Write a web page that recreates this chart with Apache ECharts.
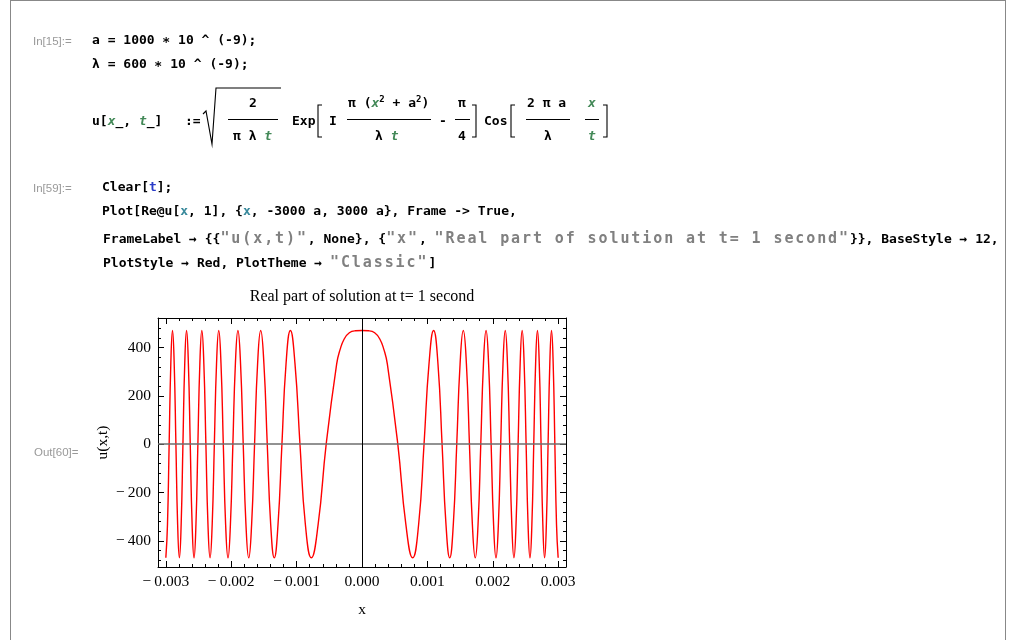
<!DOCTYPE html>
<html><head><meta charset="utf-8">
<script src="https://cdn.jsdelivr.net/npm/echarts@6/dist/echarts.min.js"></script>
<style>
html,body{margin:0;padding:0;background:#fff;}
#wrap{position:relative;width:1013px;height:640px;overflow:hidden;background:#fff;}
#chart{position:absolute;left:0;top:0;width:1013px;height:640px;}
.t{position:absolute;white-space:pre;font-family:'DejaVu Sans Mono',monospace;font-weight:bold;font-size:13px;color:#000;line-height:16px;}
.lab{position:absolute;white-space:pre;font-family:'Liberation Sans',Arial,sans-serif;font-size:11.5px;color:#999;line-height:14px;}
.g{color:#438958;font-style:italic;}
.b{color:#2a3cc8;}
.c{color:#3a8a9c;}
.s{color:#808080;font-size:15px;letter-spacing:1.9px;}
.ln{position:absolute;background:#000;}
sup{font-size:9px;line-height:0;}
</style></head>
<body>
<div id="wrap">
<div id="chart"></div>
<!-- notebook frame -->
<div class="ln" style="left:10px;top:0;width:1px;height:640px;background:#888"></div>
<div class="ln" style="left:1005px;top:0;width:1px;height:640px;background:#888"></div>
<div class="ln" style="left:10px;top:0;width:996px;height:1px;background:#888"></div>

<div class="lab" style="left:33px;top:34px">In[15]:=</div>
<div class="t" style="left:92px;top:32px">a = 1000 ∗ 10 ^ (-9);</div>
<div class="t" style="left:92px;top:56px">λ = 600 ∗ 10 ^ (-9);</div>

<div class="t" style="left:92px;top:113px">u[<span class="g">x</span>_, <span class="g">t</span>_]</div>
<div class="t" style="left:185px;top:113px">:=</div>
<div class="t" style="left:249px;top:95px">2</div>
<div class="t" style="left:233px;top:128px">π λ <span class="g">t</span></div>
<div class="ln" style="left:228px;top:119px;width:50px;height:1px"></div>
<div class="t" style="left:292px;top:113px">Exp</div>
<div class="t" style="left:329px;top:113px">I</div>
<div class="t" style="left:348px;top:95px">π (<span class="g">x</span><sup>2</sup> + a<sup>2</sup>)</div>
<div class="t" style="left:375px;top:128px">λ <span class="g">t</span></div>
<div class="ln" style="left:347px;top:119px;width:84px;height:1px"></div>
<div class="t" style="left:439px;top:113px">-</div>
<div class="t" style="left:458px;top:95px">π</div>
<div class="t" style="left:458px;top:128px">4</div>
<div class="ln" style="left:455px;top:119px;width:15px;height:1px"></div>
<div class="t" style="left:484px;top:113px">Cos</div>
<div class="t" style="left:527px;top:95px">2 π a</div>
<div class="t" style="left:544px;top:128px">λ</div>
<div class="ln" style="left:526px;top:119px;width:44px;height:1px"></div>
<div class="t" style="left:588px;top:95px"><span class="g">x</span></div>
<div class="t" style="left:588px;top:128px"><span class="g">t</span></div>
<div class="ln" style="left:585px;top:119px;width:14px;height:1px"></div>

<div class="lab" style="left:33px;top:181px">In[59]:=</div>
<div class="t" style="left:102px;top:179px">Clear[<span class="b">t</span>];</div>
<div class="t" style="left:102px;top:203px">Plot[Re@u[<span class="c">x</span>, 1], {<span class="c">x</span>, -3000 a, 3000 a}, Frame -> True,</div>
<div class="t" style="left:103px;top:230px">FrameLabel → {{<span class="s">"u(x,t)"</span>, None}, {<span class="s">"x"</span>, <span class="s">"Real part of solution at t= 1 second"</span>}}, BaseStyle → 12,</div>
<div class="t" style="left:103px;top:254px">PlotStyle → Red, PlotTheme → <span class="s">"Classic"</span>]</div>

<div class="lab" style="left:34px;top:445px">Out[60]=</div>
</div>
<script>
// ---- data ----
const xs = [
 -0.0030000,-0.0029749,-0.0029496,-0.0029240,-0.0028983,-0.0028723,-0.0028460,-0.0028196,
 -0.0027928,-0.0027659,-0.0027386,-0.0027111,-0.0026833,-0.0026552,-0.0026268,-0.0025981,
 -0.0025690,-0.0025397,-0.0025100,-0.0024799,-0.0024495,-0.0024187,-0.0023875,-0.0023558,
 -0.0023238,-0.0022913,-0.0022583,-0.0022249,-0.0021909,-0.0021564,-0.0021213,-0.0020857,
 -0.0020494,-0.0020125,-0.0019748,-0.0019365,-0.0018974,-0.0018574,-0.0018166,-0.0017748,
 -0.0017321,-0.0016882,-0.0016432,-0.0015969,-0.0015492,-0.0015000,-0.0014491,-0.0013964,
 -0.0013416,-0.0012845,-0.0012247,-0.0011619,-0.0010954,-0.0010247,-0.0009487,-0.0008660,
 -0.0007746,-0.0006708,-0.0005477,-0.0003873,-0.0003354,-0.0002739,-0.0001936,-0.0001000,
 0,
 0.0001000,0.0001936,0.0002739,0.0003354,0.0003873,0.0005477,0.0006708,0.0007746,
 0.0008660,0.0009487,0.0010247,0.0010954,0.0011619,0.0012247,0.0012845,0.0013416,
 0.0013964,0.0014491,0.0015000,0.0015492,0.0015969,0.0016432,0.0016882,0.0017321,
 0.0017748,0.0018166,0.0018574,0.0018974,0.0019365,0.0019748,0.0020125,0.0020494,
 0.0020857,0.0021213,0.0021564,0.0021909,0.0022249,0.0022583,0.0022913,0.0023238,
 0.0023558,0.0023875,0.0024187,0.0024495,0.0024799,0.0025100,0.0025397,0.0025690,
 0.0025981,0.0026268,0.0026552,0.0026833,0.0027111,0.0027386,0.0027659,0.0027928,
 0.0028196,0.0028460,0.0028723,0.0028983,0.0029240,0.0029496,0.0029749,0.0030000
];
const us = [
 -470,-332,0,332,470,332,0,-332,
 -470,-332,0,332,470,332,0,-332,
 -470,-332,0,332,470,332,0,-332,
 -470,-332,0,332,470,332,0,-332,
 -470,-332,0,332,470,332,0,-332,
 -470,-332,0,332,470,332,0,-332,
 -470,-332,0,332,470,332,0,-332,
 -470,-332,0,332,391,434,461,469,
 470,
 469,461,434,391,332,0,-332,-470,
 -332,0,332,470,332,0,-332,-470,
 -332,0,332,470,332,0,-332,-470,
 -332,0,332,470,332,0,-332,-470,
 -332,0,332,470,332,0,-332,-470,
 -332,0,332,470,332,0,-332,-470,
 -332,0,332,470,332,0,-332,-470,
 -332,0,332,470,332,0,-332,-470
];
const xTickVals = [-0.003,-0.002,-0.001,0,0.001,0.002,0.003];
const xTickLabels = ['\u2212\u20090.003','\u2212\u20090.002','\u2212\u20090.001','0.000','0.001','0.002','0.003'];
const xMinorVals = [-0.0028,-0.0026,-0.0024,-0.0022,-0.0018,-0.0016,-0.0014,-0.0012,-0.0008,-0.0006,-0.0004,-0.0002,
                    0.0002,0.0004,0.0006,0.0008,0.0012,0.0014,0.0016,0.0018,0.0022,0.0024,0.0026,0.0028];
const yTickVals = [-400,-200,0,200,400];
const yTickLabels = ['\u2212\u2009400','\u2212\u2009200','0','200','400'];
const yMinorVals = [-480,-440,-360,-320,-280,-240,-160,-120,-80,-40,40,80,120,160,240,280,320,360,440,480,520];
const titleText = 'Real part of solution at t= 1 second';
const xName = 'x';
const yName = 'u(x,t)';

// ---- chart ----
const X_MIN = -0.00312, X_MAX = 0.00312, Y_MIN = -508, Y_MAX = 522;
const SERIF = "'Liberation Serif','Times New Roman',serif";
const FS = 15.5;
function lbl(vals, labels){
  return function(v){
    for (let i=0;i<vals.length;i++){ if (Math.abs(vals[i]-v) < 1e-9*Math.max(1,Math.abs(vals[i]))) return labels[i]; }
    return '';
  };
}
function ax(kind, pos, vals, len, opts){
  const o = {
    type:'value', position:pos,
    min: kind==='x'?X_MIN:Y_MIN, max: kind==='x'?X_MAX:Y_MAX,
    axisLine:{show:!!opts.line, onZero:false, lineStyle:{color:'#000',width:1}},
    axisTick:{show:true, inside:true, length:len, customValues:vals, lineStyle:{color:'#000',width:1}},
    axisLabel:{show:false},
    splitLine:{show:false}, minorTick:{show:false}
  };
  if (opts.labels){
    o.axisLabel = {show:true, customValues:vals, formatter:lbl(vals, opts.labels),
      fontFamily:SERIF, fontSize:FS, color:'#000', margin:opts.margin};
  }
  if (opts.name){
    o.name = opts.name; o.nameLocation='middle'; o.nameGap=opts.nameGap;
    o.nameTextStyle={fontFamily:SERIF, fontSize:opts.nameSize||FS, color:'#000'};
    if (opts.nameRotate!==undefined) o.nameRotate = opts.nameRotate;
  }
  return o;
}
function pl(points){
  return {type:'polyline', silent:true, shape:{points:points}, style:{stroke:'#000', lineWidth:1.1, fill:null}};
}
const chart = echarts.init(document.getElementById('chart'), null, {renderer:'canvas'});
chart.setOption({
  animation:false,
  backgroundColor:'transparent',
  grid:{left:158, top:318, width:408, height:249, containLabel:false},
  xAxis:[
    ax('x','bottom',xTickVals,6,{line:true, labels:xTickLabels, margin:7, name:xName, nameGap:35}),
    ax('x','bottom',xMinorVals,3,{}),
    ax('x','top',xTickVals,6,{line:true, name:titleText, nameGap:13, nameSize:16}),
    ax('x','top',xMinorVals,3,{})
  ],
  yAxis:[
    ax('y','left',yTickVals,6,{line:true, labels:yTickLabels, margin:7, name:yName, nameGap:47, nameRotate:90}),
    ax('y','left',yMinorVals,3,{}),
    ax('y','right',yTickVals,6,{line:true}),
    ax('y','right',yMinorVals,3,{})
  ],
  graphic:[
    pl([[203,114],[206,111],[212,144],[216,88],[281,88]]),   // radical
    pl([[322,105],[318,105],[318,137],[322,137]]),          // Exp [
    pl([[472,105],[476,105],[476,137],[472,137]]),          // Exp ]
    pl([[515,105],[511,105],[511,137],[515,137]]),          // Cos [
    pl([[603,105],[607,105],[607,137],[603,137]])           // Cos ]
  ],
  series:[{
    type:'line', xAxisIndex:0, yAxisIndex:0,
    data: xs.map((x,i)=>[x, us[i]]),
    smooth:0.5, showSymbol:false, symbol:'none', clip:true,
    lineStyle:{color:'#ff0000', width:1.4},
    z:3,
    markLine:{
      silent:true, symbol:['none','none'], label:{show:false},
      data:[
        {yAxis:0, lineStyle:{color:'#6e6e6e', width:1.5, type:'solid'}},
        {xAxis:0, lineStyle:{color:'#000', width:1, type:'solid'}}
      ]
    }
  }]
});
</script>
</body></html>
